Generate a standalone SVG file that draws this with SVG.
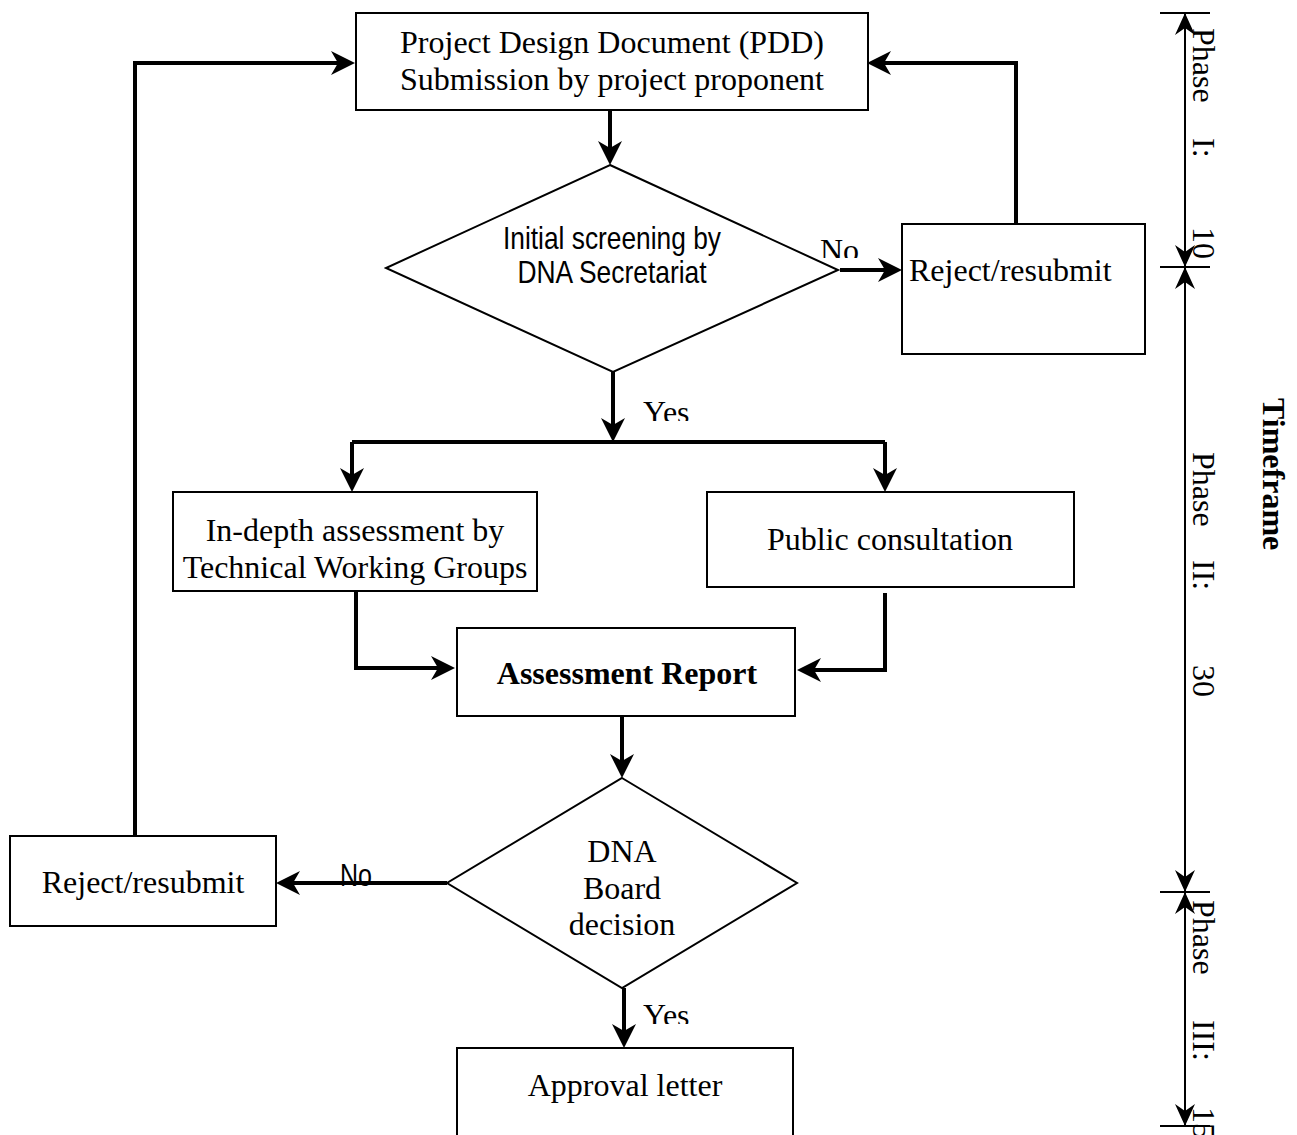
<svg xmlns="http://www.w3.org/2000/svg" width="1297" height="1135" viewBox="0 0 1297 1135">
<style>
.box{fill:#fff;stroke:#000;stroke-width:2}
.conn{fill:none;stroke:#000;stroke-width:4;stroke-linecap:butt;stroke-linejoin:miter}
.tl{fill:none;stroke:#000;stroke-width:2}
.t{font-family:"Liberation Serif","Times New Roman",serif;font-size:32px;fill:#000}
.tb{font-family:"Liberation Serif","Times New Roman",serif;font-size:32px;font-weight:bold;fill:#000}
.n{font-family:"Liberation Sans Narrow","Liberation Sans",Arial,sans-serif;font-size:32px;fill:#000}
.c{text-anchor:middle}
</style>
<defs>
<marker id="ah" markerUnits="userSpaceOnUse" viewBox="-16 -13 28 26" refX="0" refY="0" markerWidth="28" markerHeight="26" orient="auto">
<path d="M10,0 L-14,-12 L-7,0 L-14,12 Z" fill="#000"/>
</marker>
<marker id="th" markerUnits="userSpaceOnUse" viewBox="-24 -11 26 22" refX="0" refY="0" markerWidth="26" markerHeight="22" orient="auto-start-reverse">
<path d="M0,0 L-22,-10 L-15,0 L-22,10 Z" fill="#000"/>
</marker>
<clipPath id="cNo1"><rect x="810" y="230" width="60" height="28"/></clipPath>
<clipPath id="cYes1"><rect x="635" y="390" width="80" height="31"/></clipPath>
<clipPath id="cYes2"><rect x="635" y="995" width="80" height="29"/></clipPath>
</defs>

<g id="connectors">
<path class="conn" d="M610,110 L610,155" marker-end="url(#ah)"/>
<path class="conn" d="M840,270 L892,270" marker-end="url(#ah)"/>
<path class="conn" d="M1016,224 L1016,63 L877,63" marker-end="url(#ah)"/>
<path class="conn" d="M135,836 L135,63 L345,63" marker-end="url(#ah)"/>
<path class="conn" d="M613,372 L613,432" marker-end="url(#ah)"/>
<path class="conn" d="M352,442 L885,442"/>
<path class="conn" d="M352,442 L352,482" marker-end="url(#ah)"/>
<path class="conn" d="M885,442 L885,482" marker-end="url(#ah)"/>
<path class="conn" d="M356,591 L356,668 L445,668" marker-end="url(#ah)"/>
<path class="conn" d="M885,593 L885,670 L807,670" marker-end="url(#ah)"/>
<path class="conn" d="M622,716 L622,768" marker-end="url(#ah)"/>
<path class="conn" d="M447,883 L286,883" marker-end="url(#ah)"/>
<path class="conn" d="M624,988 L624,1038" marker-end="url(#ah)"/>
<text class="t" x="820" y="261" clip-path="url(#cNo1)">No</text>
<text class="t" x="643" y="423" clip-path="url(#cYes1)">Yes</text>
<text class="n" x="340" y="886" textLength="32" lengthAdjust="spacingAndGlyphs">No</text>
<text class="t" x="643" y="1026" clip-path="url(#cYes2)">Yes</text>
</g>

<g id="pdd">
<rect class="box" x="356" y="13" width="512" height="97"/>
<text class="t c" x="612" y="53">Project Design Document (PDD)</text>
<text class="t c" x="612" y="90">Submission by project proponent</text>
</g>

<g id="screening">
<polygon class="box" points="610,165 838,270 613,372 386,268"/>
<text class="n c" x="612" y="249" textLength="218" lengthAdjust="spacingAndGlyphs">Initial screening by</text>
<text class="n c" x="612" y="283" textLength="189" lengthAdjust="spacingAndGlyphs">DNA Secretariat</text>
</g>

<g id="reject1">
<rect class="box" x="902" y="224" width="243" height="130"/>
<text class="t" x="909" y="281">Reject/resubmit</text>
</g>

<g id="indepth">
<rect class="box" x="173" y="492" width="364" height="99"/>
<text class="t c" x="355" y="541">In-depth assessment by</text>
<text class="t c" x="355" y="578">Technical Working Groups</text>
</g>

<g id="public">
<rect class="box" x="707" y="492" width="367" height="95"/>
<text class="t c" x="890" y="550">Public consultation</text>
</g>

<g id="report">
<rect class="box" x="457" y="628" width="338" height="88"/>
<text class="tb c" x="627" y="684">Assessment Report</text>
</g>

<g id="board">
<polygon class="box" points="622,778 797,883 622,988 447,883"/>
<text class="t c" x="622" y="862">DNA</text>
<text class="t c" x="622" y="899">Board</text>
<text class="t c" x="622" y="935">decision</text>
</g>

<g id="reject2">
<rect class="box" x="10" y="836" width="266" height="90"/>
<text class="t c" x="143" y="893">Reject/resubmit</text>
</g>

<g id="approval">
<rect class="box" x="457" y="1048" width="336" height="120"/>
<text class="t c" x="625" y="1096">Approval letter</text>
</g>

<g id="timeline">
<path class="tl" d="M1160,13 L1210,13 M1160,267 L1210,267 M1160,892 L1210,892 M1160,1126 L1210,1126"/>
<path class="tl" d="M1185,13 L1185,267" marker-start="url(#th)" marker-end="url(#th)"/>
<path class="tl" d="M1185,267 L1185,892" marker-start="url(#th)" marker-end="url(#th)"/>
<path class="tl" d="M1185,892 L1185,1126" marker-start="url(#th)" marker-end="url(#th)"/>
<text class="t" transform="translate(1193,28) rotate(90)">Phase</text>
<text class="t" transform="translate(1193,138) rotate(90)">I:</text>
<text class="t" transform="translate(1193,227) rotate(90)">10</text>
<text class="t" transform="translate(1193,452) rotate(90)">Phase</text>
<text class="t" transform="translate(1193,560) rotate(90)">II:</text>
<text class="t" transform="translate(1193,665) rotate(90)">30</text>
<text class="t" transform="translate(1193,900) rotate(90)">Phase</text>
<text class="t" transform="translate(1193,1020) rotate(90)">III:</text>
<text class="t" transform="translate(1193,1107) rotate(90)">15</text>
<text class="tb" transform="translate(1263,398) rotate(90)">Timeframe</text>
</g>
</svg>
